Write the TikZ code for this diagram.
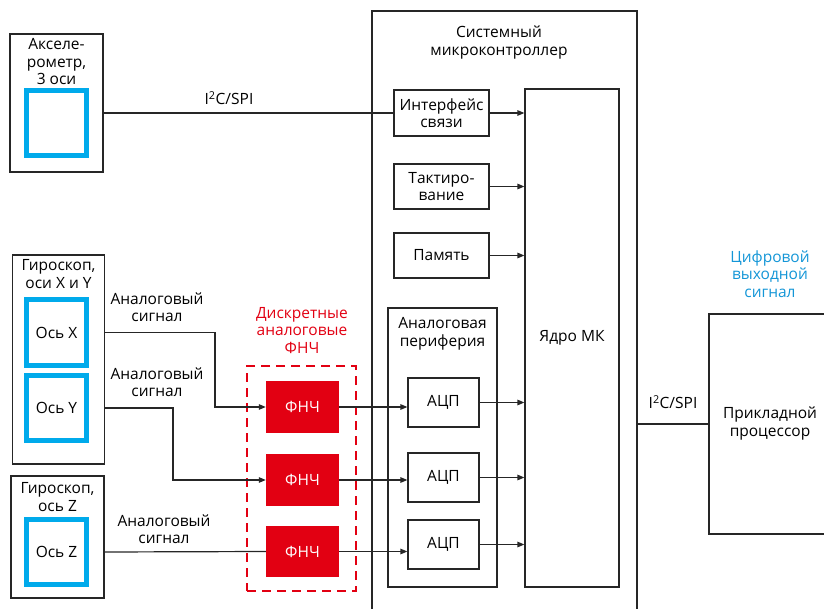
\documentclass[tikz,border=0pt]{standalone}
\usepackage{fontspec}
\setmainfont{Open Sans}
\usetikzlibrary{arrows.meta}
\definecolor{fred}{RGB}{226,0,18}
\definecolor{sqblue}{RGB}{0,170,235}
\definecolor{tblue}{RGB}{20,150,215}
\begin{document}
\begin{tikzpicture}[x=1pt,y=-1pt,
  font=\fontsize{15.5}{17.5}\selectfont,
  box/.style={draw=black!85, line width=1.2pt, inner sep=0pt, align=center},
  sq/.style={draw=sqblue, line width=5pt, inner sep=0pt, align=center},
  lpf/.style={fill=fred, text=white, inner sep=0pt, align=center},
  txt/.style={inner sep=0pt, align=center},
  wire/.style={draw=black!85, line width=1.2pt},
  arr/.style={wire, -{Triangle[length=7pt,width=5.5pt]}}]
\useasboundingbox (0,0) rectangle (824,609);

% accelerometer
\node[box, minimum width=93, minimum height=138] (acc) at (56.5,103) {};
\node[txt] (acct) at (56.5,62) {Акселе-\\рометр,\\3 оси};
\node[sq, minimum width=60, minimum height=65] (accs) at (56.5,123) {};

% gyro XY
\node[box, minimum width=92, minimum height=209] (gxy) at (58.5,359.5) {};
\node[txt] (gxyt) at (58.5,274) {Гироскоп,\\оси X и Y};
\node[sq, minimum width=60, minimum height=66] (ox) at (56.5,332.5) {Ось X};
\node[sq, minimum width=60, minimum height=65] (oy) at (56.5,408) {Ось Y};

% gyro Z
\node[box, minimum width=93, minimum height=122] (gz) at (57.5,537) {};
\node[txt] (gzt) at (57.5,497) {Гироскоп,\\ось Z};
\node[sq, minimum width=60, minimum height=65] (oz) at (56.5,552) {Ось Z};

% MCU
\node[box, minimum width=265, minimum height=640] (mcu) at (504.5,331) {};
\node[txt] (mcut) at (499,42.5) {Системный\\микроконтроллер};
\node[box, minimum width=94, minimum height=498] (core) at (572,338) {Ядро МК};
\node[box, minimum width=95, minimum height=46] (ifc) at (441.5,113) {Интерфейс\\связи};
\node[box, minimum width=95, minimum height=45] (tak) at (441.5,186.5) {Тактиро-\\вание};
\node[box, minimum width=95, minimum height=45] (mem) at (441.5,255.5) {Память};
\node[box, minimum width=109, minimum height=279] (ap) at (442.5,447.5) {};
\node[txt] (apt) at (442.5,334) {Аналоговая\\периферия};
\node[box, minimum width=71, minimum height=49] (a1) at (443.5,402.5) {АЦП};
\node[box, minimum width=71, minimum height=49] (a2) at (443.5,477.5) {АЦП};
\node[box, minimum width=71, minimum height=49] (a3) at (443.5,544.5) {АЦП};

% LPFs
\node[draw=fred, line width=2.5pt, dash pattern=on 9pt off 6pt, minimum width=109, minimum height=225, inner sep=0pt] (dash) at (301.5,478.5) {};
\node[txt, text=fred] (lpft) at (302,330.5) {Дискретные\\аналоговые\\ФНЧ};
\node[lpf, minimum width=73, minimum height=52] (f1) at (302.5,407) {ФНЧ};
\node[lpf, minimum width=73, minimum height=52] (f2) at (302.5,480) {ФНЧ};
\node[lpf, minimum width=73, minimum height=51] (f3) at (302.5,551.5) {ФНЧ};

% application processor
\node[box, minimum width=150, minimum height=220] (proc) at (784,424) {};
\node[txt] (proct) at (770,423.5) {Прикладной\\процессор};
\node[txt, text=tblue] (dout) at (770,274) {Цифровой\\выходной\\сигнал};

% labels
\node[txt] (l1) at (229,98) {I\textsuperscript{2}C/SPI};
\node[txt] (l2) at (673,402) {I\textsuperscript{2}C/SPI};
\node[txt] (s1) at (157,307) {Аналоговый\\сигнал};
\node[txt] (s2) at (157,382) {Аналоговый\\сигнал};
\node[txt] (s3) at (164,529) {Аналоговый\\сигнал};

% wires
\coordinate (k1) at (215,0);
\coordinate (k2) at (173,0);
\draw[wire] (ifc.west) -- (ifc.west -| acc.east);
\draw[arr] (gxy.east |- ox) -- (k1 |- ox) -- (k1 |- f1.west) -- (f1.west);
\draw[arr] (gxy.east |- oy) -- (k2 |- oy) -- (k2 |- f2.west) -- (f2.west);
\draw[wire] (gz.east |- oz) -- (f3.west);
\foreach \f/\a in {f1/a1,f2/a2,f3/a3}{
  \draw[arr] (\f.east) -- (\f.east -| \a.west);
  \draw[arr] (\a.east) -- (\a.east -| core.west);
}
\foreach \b in {ifc,tak,mem}{
  \draw[arr] (\b.east) -- (\b.east -| core.west);
}
\draw[wire] (proc.west) -- (proc.west -| mcu.east);
\end{tikzpicture}
\end{document}
